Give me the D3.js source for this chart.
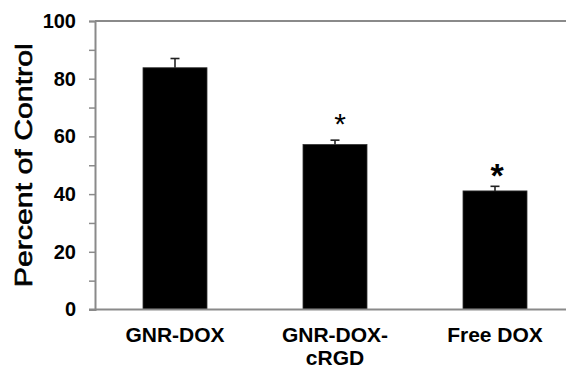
<!DOCTYPE html>
<html>
<head>
<meta charset="utf-8">
<script src="https://cdn.jsdelivr.net/npm/d3@7"></script>
<style>
  html, body { margin: 0; padding: 0; background: #fff; }
  svg { display: block; }
</style>
</head>
<body>
<svg id="chart" width="566" height="368"></svg>
<script>
// ---- data ----
const categories = ["GNR-DOX", "GNR-DOX-cRGD", "Free DOX"];
const labelLines = [["GNR-DOX"], ["GNR-DOX-", "cRGD"], ["Free DOX"]];
const values = [83.8, 57.2, 41.1];
const errors = [3.2, 1.5, 1.6];
const significance = ["", "*", "*"];
const yTicks = [0, 20, 40, 60, 80, 100];
const yMinorTicks = [10, 30, 50, 70, 90];
const yTitle = "Percent of Control";

(function () {
// ---- layout ----
const svg = d3.select("#chart");
const mLeft = 95, mRight = 575, mTop = 21, mBottom = 309.5;
const font = "'Liberation Sans', Arial, Helvetica, sans-serif";
const axisColor = "#8a8a8a";

const x = d3.scaleBand().domain(categories).range([mLeft, mRight])
  .paddingInner(0.6).paddingOuter(0.3);
const y = d3.scaleLinear().domain([0, 100]).range([mBottom, mTop]);

// top frame line
svg.append("line")
  .attr("x1", mLeft).attr("x2", mRight)
  .attr("y1", y(100)).attr("y2", y(100))
  .attr("stroke", axisColor).attr("stroke-width", 2);

// bars
svg.selectAll("rect.bar").data(values).join("rect")
  .attr("class", "bar")
  .attr("x", (d, i) => x(categories[i]))
  .attr("width", x.bandwidth())
  .attr("y", d => y(d))
  .attr("height", d => y(0) - y(d))
  .attr("fill", "#000")
  .attr("stroke", "#333").attr("stroke-width", 0.8);

// error bars
const eg = svg.append("g").attr("stroke", "#222").attr("stroke-width", 1.6);
values.forEach((v, i) => {
  const cx = x(categories[i]) + x.bandwidth() / 2;
  eg.append("line").attr("x1", cx).attr("x2", cx)
    .attr("y1", y(v)).attr("y2", y(v + errors[i]));
  eg.append("line").attr("x1", cx - 4.5).attr("x2", cx + 4.5)
    .attr("y1", y(v + errors[i])).attr("y2", y(v + errors[i]));
});

// significance markers
const starStyle = [null, {dx: 5, dy: -24, size: 30, weight: "normal"}, {dx: 2, dy: -19, size: 34, weight: "bold"}];
significance.forEach((s, i) => {
  if (!s) return;
  const st = starStyle[i];
  const cx = x(categories[i]) + x.bandwidth() / 2 + st.dx;
  const cy = y(values[i] + errors[i]) + st.dy;
  svg.append("text")
    .attr("x", cx).attr("y", cy + st.size * 0.58)
    .attr("text-anchor", "middle")
    .attr("font-family", font).attr("font-size", st.size)
    .attr("font-weight", st.weight)
    .attr("fill", "#000")
    .text(s);
});

// y axis
const yAxis = svg.append("g").attr("transform", `translate(${mLeft},0)`)
  .call(d3.axisLeft(y).tickValues(yTicks).tickSize(6).tickPadding(13)
    .tickFormat(d3.format("d")));
yAxis.select(".domain").attr("stroke", axisColor).attr("stroke-width", 2);
yAxis.selectAll(".tick line").attr("stroke", axisColor).attr("stroke-width", 1.5);
yAxis.selectAll(".tick text")
  .attr("font-family", font).attr("font-size", 20).attr("font-weight", "bold")
  .attr("fill", "#000");

const yMinor = svg.append("g").attr("transform", `translate(${mLeft},0)`)
  .call(d3.axisLeft(y).tickValues(yMinorTicks).tickSize(6).tickFormat(""));
yMinor.select(".domain").remove();
yMinor.selectAll(".tick line").attr("stroke", axisColor).attr("stroke-width", 1.5);

// x axis line
svg.append("line")
  .attr("x1", mLeft - 6).attr("x2", mRight)
  .attr("y1", y(0)).attr("y2", y(0))
  .attr("stroke", axisColor).attr("stroke-width", 2);

// x labels
labelLines.forEach((lines, i) => {
  const cx = x(categories[i]) + x.bandwidth() / 2;
  const t = svg.append("text")
    .attr("x", cx).attr("y", 342)
    .attr("text-anchor", "middle")
    .attr("font-family", font).attr("font-size", 21).attr("font-weight", "bold")
    .attr("fill", "#000");
  lines.forEach((ln, j) => {
    t.append("tspan").attr("x", cx).attr("dy", j === 0 ? 0 : 23).text(ln);
  });
});

// y title
svg.append("text")
  .attr("transform", `translate(31.5,${(mTop + mBottom) / 2}) rotate(-90)`)
  .attr("text-anchor", "middle")
  .attr("font-family", font).attr("font-size", 24)
  .attr("textLength", 244).attr("lengthAdjust", "spacingAndGlyphs")
  .attr("fill", "#000")
  .attr("stroke", "#000").attr("stroke-width", 0.6)
  .text(yTitle);
})();
</script>
</body>
</html>
